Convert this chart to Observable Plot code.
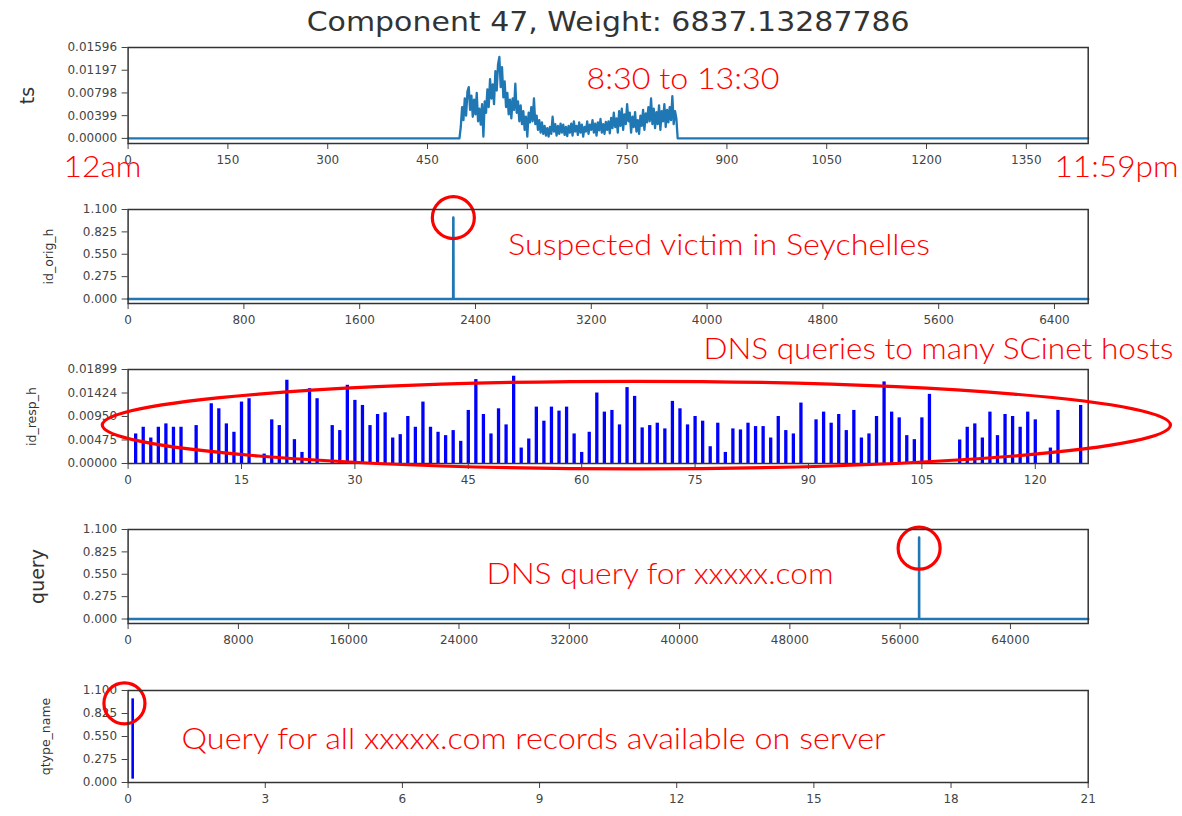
<!DOCTYPE html>
<html><head><meta charset="utf-8">
<script src="https://cdn.jsdelivr.net/npm/d3@7"></script>
<script src="https://cdn.jsdelivr.net/npm/@observablehq/plot@0.6"></script>
<style>
body{margin:0;background:#fff;}
#chart{position:relative;width:1182px;height:816px;overflow:hidden;background:#fff;}
#chart svg{position:absolute;left:0;overflow:visible;}
</style></head><body><div id="chart"></div>
<script>
const titleText = "Component 47, Weight: 6837.13287786";

// ---- ts (minute of day) ----
const tsXTicks = [0,150,300,450,600,750,900,1050,1200,1350];
const tsYTicks = [0.00000,0.00399,0.00798,0.01197,0.01596];
const tsActiveStart = 500, tsActiveStep = 2;
const tsActiveValues = [
0.0020,0.0055,0.0032,0.0070,0.0040,0.0082,0.0090,0.0050,0.0075,0.0038,
0.0068,0.0042,0.0080,0.0030,0.0052,0.0024,0.0060,0.0003,0.0065,0.0045,
0.0086,0.0055,0.0104,0.0070,0.0095,0.0060,0.0118,0.0084,0.0130,0.0143,
0.0090,0.0125,0.0072,0.0100,0.0055,0.0080,0.0042,0.0068,0.0035,0.0070,
0.0050,0.0096,0.0045,0.0065,0.0030,0.0058,0.0025,0.0048,0.0015,0.0038,
0.0003,0.0045,0.0028,0.0055,0.0030,0.0070,0.0025,0.0040,0.0015,0.0032,
0.0010,0.0028,0.0008,0.0022,0.0005,0.0018,0.0003,0.0020,0.0008,0.0038,
0.0012,0.0025,0.0005,0.0022,0.0008,0.0026,0.0010,0.0024,0.0006,0.0020,
0.0004,0.0022,0.0010,0.0026,0.0005,0.0030,0.0012,0.0022,0.0006,0.0028,
0.0010,0.0024,0.0003,0.0020,0.0012,0.0030,0.0008,0.0024,0.0015,0.0032,
0.0010,0.0026,0.0005,0.0028,0.0014,0.0034,0.0010,0.0025,0.0008,0.0029,
0.0015,0.0030,0.0009,0.0036,0.0018,0.0045,0.0020,0.0035,0.0010,0.0048,
0.0022,0.0052,0.0015,0.0042,0.0025,0.0060,0.0030,0.0045,0.0010,0.0038,
0.0020,0.0046,0.0012,0.0032,0.0008,0.0040,0.0022,0.0050,0.0015,0.0044,
0.0028,0.0055,0.0030,0.0070,0.0025,0.0052,0.0018,0.0046,0.0025,0.0058,
0.0015,0.0048,0.0030,0.0060,0.0020,0.0050,0.0028,0.0055,0.0032,0.0074,
0.0025,0.0048,0.0035];
const tsIdleMinutes = [0, 498, 826, 1443];

// ---- id_orig_h ----
const origXTicks = [0,800,1600,2400,3200,4000,4800,5600,6400];
const unitYTicks = [0.000,0.275,0.550,0.825,1.100];
const origIndex  = [0, 2246, 2247, 2248, 6633];
const origValues = [0, 0, 1.0, 0, 0];

// ---- id_resp_h ----
const respXTicks = [0,15,30,45,60,75,90,105,120];
const respYTicks = [0.00000,0.00475,0.00950,0.01424,0.01899];
const respIndex = [1,2,3,4,5,6,7,9,11,12,13,14,15,16,18,19,20,21,22,23,24,25,27,28,29,30,31,32,33,34,35,36,37,38,39,40,41,42,43,44,45,46,47,48,49,50,51,52,53,54,55,56,57,58,59,60,61,62,63,64,65,66,67,68,69,70,71,72,73,74,75,76,77,78,79,80,81,82,83,84,85,86,87,88,89,91,92,93,94,95,96,97,98,99,100,101,102,103,104,105,106,110,111,112,113,114,115,116,117,118,119,120,122,123,126];
const respValues = [0.00597,0.00732,0.00515,0.00732,0.0080,0.00732,0.00732,0.00766,0.01207,0.01105,0.0080,0.00631,0.01241,0.01309,0.0019,0.00882,0.00766,0.01682,0.00482,0.00224,0.01512,0.01309,0.00766,0.00665,0.0158,0.01275,0.01173,0.00766,0.0099,0.01024,0.00515,0.00583,0.0095,0.00732,0.01241,0.00732,0.00631,0.00563,0.00665,0.00448,0.01072,0.01695,0.0099,0.00597,0.01105,0.0078,0.01763,0.00312,0.00495,0.01139,0.00855,0.01139,0.01058,0.01139,0.00597,0.00224,0.00631,0.01424,0.01038,0.01072,0.0078,0.01533,0.01356,0.00719,0.00766,0.00814,0.00699,0.01255,0.01105,0.0078,0.0095,0.00855,0.00339,0.00814,0.00224,0.00699,0.00678,0.00814,0.00746,0.00746,0.00515,0.0095,0.00665,0.00597,0.01221,0.00882,0.01038,0.00814,0.0099,0.00665,0.01072,0.00515,0.00597,0.0095,0.01648,0.01038,0.00922,0.00563,0.00482,0.00922,0.01397,0.00475,0.00732,0.0080,0.00515,0.01038,0.00563,0.0099,0.0095,0.00732,0.01038,0.00882,0.00312,0.01072,0.01173];

// ---- query ----
const queryXTicks = [0,8000,16000,24000,32000,40000,48000,56000,64000];
const queryIndex  = [0, 57375, 57376, 57377, 69640];
const queryValues = [0, 0, 1.0, 0, 0];

// ---- qtype_name ----
const qtypeXTicks = [0,3,6,9,12,15,18,21];
const qtypeIndex  = [0.1];
const qtypeValues = [1.0];

// ---- annotations ----
const noteTime = "8:30 to 13:30", noteStart = "12am", noteEnd = "11:59pm";
const noteOrig = "Suspected victim in Seychelles";
const noteResp = "DNS queries to many SCinet hosts";
const noteQuery = "DNS query for xxxxx.com";
const noteQtype = "Query for all xxxxx.com records available on server";

const tsData = [
  {m: tsIdleMinutes[0], v: 0}, {m: tsIdleMinutes[1], v: 0},
  ...tsActiveValues.map((v, i) => ({m: tsActiveStart + i * tsActiveStep, v})),
  {m: tsIdleMinutes[2], v: 0}, {m: tsIdleMinutes[3], v: 0}
];
const origData = origIndex.map((x, i) => ({x, y: origValues[i]}));
const respData = respIndex.map((x, i) => ({x, y: respValues[i]}));
const queryData = queryIndex.map((x, i) => ({x, y: queryValues[i]}));
const qtypeData = qtypeIndex.map((x, i) => ({x, y: qtypeValues[i]}));

const LEFT = 127.6, RIGHT = 1087.7, W = 1182;
const RED = "#ff0000", LINE = "#1f77b4", BAR = "#0000ff";
const fitWidths = new Map([
  [titleText, 603], [noteTime, 193], [noteStart, 78], [noteEnd, 124],
  [noteOrig, 422], [noteResp, 470], [noteQuery, 347], [noteQtype, 704]
]);

const chart = document.getElementById("chart");

function redNote(text, px, py, top) {
  return Plot.text([text], {frameAnchor: "top-left", dx: px - LEFT, dy: py - top,
    textAnchor: "start", lineAnchor: "bottom", fill: RED, fontSize: 30,
    fontFamily: "Lato", fontWeight: 300});
}
function yLabel(text, baseX, size) {
  return Plot.text([text], {frameAnchor: "left", dx: baseX - LEFT, rotate: -90,
    textAnchor: "middle", lineAnchor: "bottom", fontSize: size, fill: "#333",
    fontFamily: "DejaVu Sans"});
}

function panel({top, bottom, mt, mb, xDomain, xTicks, yDomain, yTicks, yFmt, marks}) {
  const svg = Plot.plot({
    width: W, height: mt + (bottom - top) + mb,
    marginLeft: LEFT, marginRight: W - RIGHT, marginTop: mt, marginBottom: mb,
    style: {fontFamily: "DejaVu Sans", fontSize: "12px", color: "#444",
            background: "transparent", overflow: "visible"},
    x: {domain: xDomain, ticks: xTicks, tickFormat: d => String(d), tickSize: 6, tickPadding: 6, label: null},
    y: {domain: yDomain, ticks: yTicks, tickFormat: d3.format(yFmt), tickSize: 6, tickPadding: 5, label: null},
    marks: [...marks, Plot.frame({stroke: "#333", strokeWidth: 1.5})]
  });
  svg.style.top = (top - mt) + "px";
  chart.appendChild(svg);
  d3.select(svg).selectAll("text").each(function () {
    const w = fitWidths.get(this.textContent);
    if (w) { this.setAttribute("textLength", w); this.setAttribute("lengthAdjust", "spacingAndGlyphs"); }
  });
  return svg;
}

// Panel 1: ts
panel({top: 47, bottom: 143, mt: 47, mb: 45, xDomain: [0, 1443], xTicks: tsXTicks,
  yDomain: [-0.0009, 0.01596], yTicks: tsYTicks, yFmt: ".5f",
  marks: [
    Plot.line(tsData, {x: "m", y: "v", stroke: LINE, strokeWidth: 2.3}),
    Plot.text([titleText], {frameAnchor: "top", dy: 30 - 47, lineAnchor: "bottom",
      fontSize: 27, fill: "#333", fontFamily: "DejaVu Sans"}),
    yLabel("ts", 33, 19),
    redNote(noteTime, 586, 88, 47),
    redNote(noteStart, 63, 176.5, 47),
    redNote(noteEnd, 1054, 176.5, 47)
  ]});

// Panel 2: id_orig_h
panel({top: 209, bottom: 303, mt: 45, mb: 45, xDomain: [0, 6633], xTicks: origXTicks,
  yDomain: [-0.055, 1.1], yTicks: unitYTicks, yFmt: ".3f",
  marks: [
    Plot.line(origData, {x: "x", y: "y", stroke: LINE, strokeWidth: 2.6}),
    Plot.dot([origData[2]], {x: "x", y: "y", r: 21, stroke: RED, strokeWidth: 3.2, fill: "none"}),
    yLabel("id_orig_h", 52, 12.5),
    redNote(noteOrig, 507.6, 254, 209)
  ]});

// Panel 3: id_resp_h
const p3 = panel({top: 369, bottom: 463, mt: 45, mb: 45, xDomain: [0, 127], xTicks: respXTicks,
  yDomain: [0, 0.01899], yTicks: respYTicks, yFmt: ".5f",
  marks: [
    Plot.ruleX(respData, {x: "x", y1: 0, y2: "y", stroke: BAR, strokeWidth: 3.3}),
    yLabel("id_resp_h", 35, 12.5),
    redNote(noteResp, 703, 358, 369)
  ]});
{
  const sx = p3.scale("x"), sy = p3.scale("y");
  const cx = sx.apply(67.3), rx = sx.apply(67.3 + 70.65) - cx;
  const cy = sy.apply(0.00767), ry = sy.apply(0) - sy.apply(0.00884);
  d3.select(p3).append("ellipse").attr("cx", cx).attr("cy", cy).attr("rx", rx).attr("ry", ry)
    .attr("fill", "none").attr("stroke", RED).attr("stroke-width", 3.2);
}

// Panel 4: query
panel({top: 529, bottom: 623, mt: 45, mb: 45, xDomain: [0, 69640], xTicks: queryXTicks,
  yDomain: [-0.055, 1.1], yTicks: unitYTicks, yFmt: ".3f",
  marks: [
    Plot.line(queryData, {x: "x", y: "y", stroke: LINE, strokeWidth: 2.6}),
    Plot.dot([{x: queryIndex[2], y: 0.87}], {x: "x", y: "y", r: 21, stroke: RED, strokeWidth: 3.2, fill: "none"}),
    yLabel("query", 43, 19),
    redNote(noteQuery, 486, 583, 529)
  ]});

// Panel 5: qtype_name
panel({top: 690, bottom: 782, mt: 45, mb: 40, xDomain: [0, 21], xTicks: qtypeXTicks,
  yDomain: [0, 1.1], yTicks: unitYTicks, yFmt: ".3f",
  marks: [
    Plot.ruleX(qtypeData, {x: "x", y1: 0.04, y2: "y", stroke: BAR, strokeWidth: 2.6}),
    Plot.dot([{x: -0.08, y: 0.945}], {x: "x", y: "y", r: 20.5, stroke: RED, strokeWidth: 3.2, fill: "none"}),
    yLabel("qtype_name", 49, 12.5),
    redNote(noteQtype, 181, 748, 690)
  ]});
</script>
</body></html>
